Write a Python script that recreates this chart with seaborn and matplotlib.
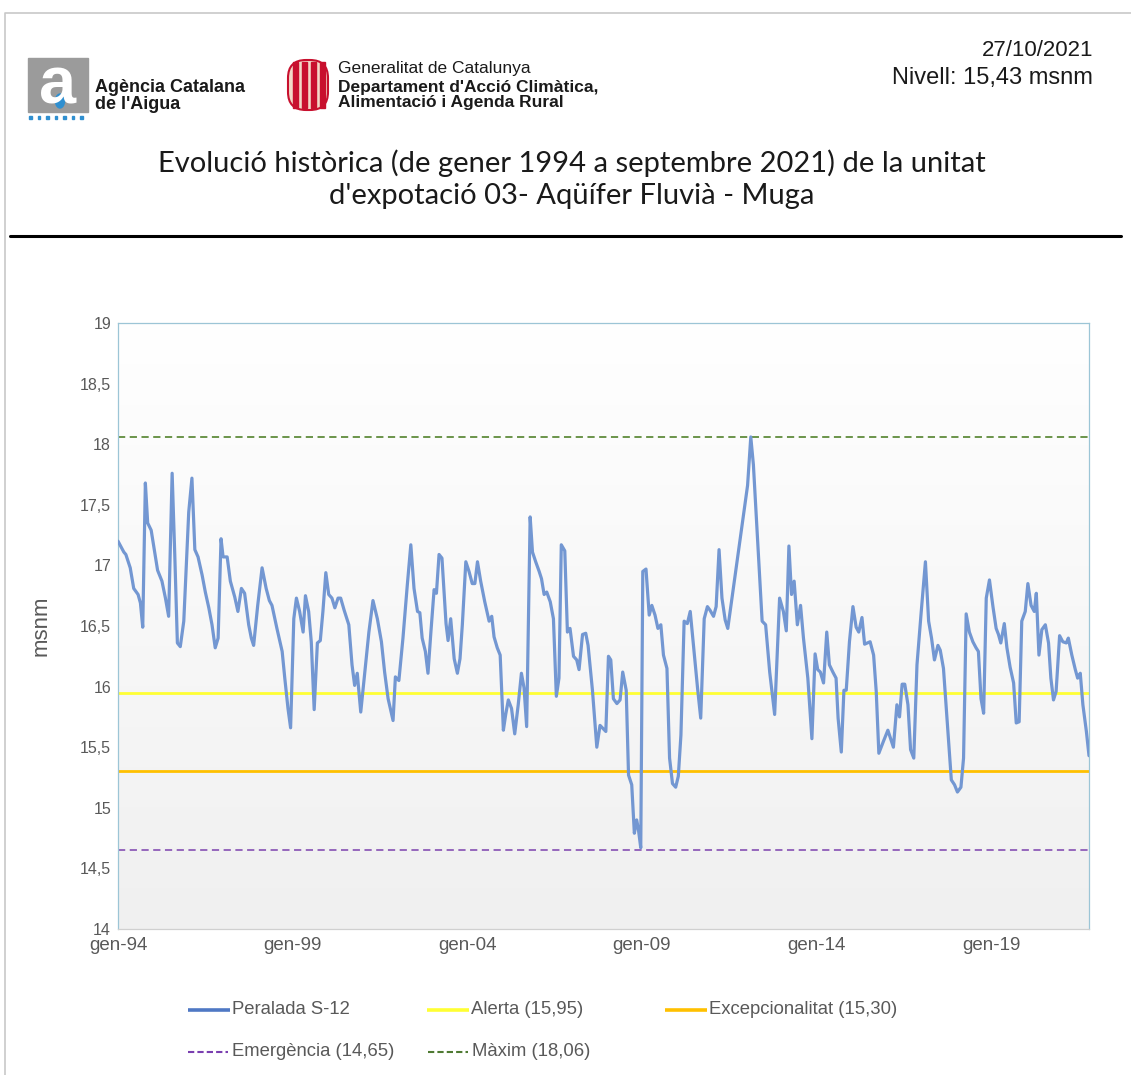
import numpy as np
import pandas as pd
import seaborn as sns
import matplotlib.pyplot as plt
import matplotlib.dates as mdates
from matplotlib.colors import LinearSegmentedColormap
from matplotlib.patches import Rectangle, FancyBboxPatch, Ellipse

# months elapsed since gen-94 at each vertex of the Peralada S-12 series
mesos = [0, 2.0, 2.7, 4.2, 5.4, 6.9, 7.7, 8.5, 9.4, 10.2, 11.4, 12.6, 13.6, 15.1, 16.3, 17.4,
         18.6, 19.5, 20.4, 21.4, 22.6, 24.3, 25.4, 26.4, 27.5, 28.9, 30.0, 31.2, 32.3, 33.4,
         34.4, 35.4, 36.1, 37.5, 38.6, 40.1, 41.2, 42.4, 43.5, 44.9, 45.8, 46.6, 48.0, 49.5,
         50.9, 52.0, 52.9, 54.6, 56.4, 57.3, 58.4, 59.3, 60.4, 61.3, 62.4, 63.6, 64.4, 65.5,
         66.4, 67.4, 68.5, 69.5, 70.4, 71.4, 72.4, 73.5, 74.5, 75.6, 76.5, 77.7, 79.3, 80.4,
         81.3, 82.2, 83.4, 84.8, 86.2, 87.6, 89.1, 90.5, 91.6, 92.8, 94.5, 95.3, 96.5, 97.9,
         99.4, 100.6, 101.7, 102.9, 103.7, 104.5, 105.6, 106.5, 107.5, 108.6, 109.4, 110.3,
         111.3, 112.7, 113.4, 114.3, 115.5, 116.6, 117.5, 118.3, 119.5, 120.6, 121.7, 122.6,
         123.5, 124.6, 126.0, 127.5, 128.4, 129.2, 130.3, 131.3, 132.4, 133.2, 134.1, 135.2,
         136.3, 137.5, 138.6, 139.5, 140.4, 141.6, 142.4, 143.5, 144.7, 145.5, 146.4, 147.3,
         148.5, 149.6, 150.6, 151.5, 152.3, 153.5, 154.4, 155.3, 156.5, 157.6, 158.4, 159.6,
         160.7, 161.5, 163.0, 164.5, 165.6, 167.6, 168.5, 169.3, 170.2, 171.4, 172.5, 173.4,
         174.6, 175.4, 176.5, 177.4, 178.2, 178.8, 179.6, 180.3, 181.4, 182.5, 183.4, 184.5,
         185.5, 186.5, 187.4, 188.6, 189.5, 190.5, 191.6, 192.5, 193.4, 194.5, 195.6, 196.6,
         197.7, 199.1, 200.2, 201.4, 202.5, 203.4, 204.6, 205.5, 206.5, 207.5, 208.6, 209.5,
         216.3, 217.4, 218.3, 221.3, 222.5, 223.9, 225.6, 227.3, 228.6, 229.6, 230.5, 231.4,
         232.3, 233.4, 234.5, 235.5, 237.0, 238.4, 239.5, 240.4, 241.3, 242.4, 243.5, 244.4,
         245.6, 246.7, 247.4, 248.5, 249.4, 250.2, 251.3, 252.5, 253.6, 254.5, 255.6, 256.5,
         258.4, 259.6, 260.5, 261.4, 263.0, 264.5, 266.4, 267.6, 268.5, 269.4, 270.3, 271.4,
         272.3, 273.4, 274.5, 275.9, 277.4, 278.5, 279.5, 280.5, 281.7, 282.5, 283.6, 284.8,
         286.3, 287.4, 288.4, 289.6, 290.5, 291.4, 292.5, 293.7, 294.8, 295.6, 296.5, 297.4,
         298.3, 299.4, 300.6, 301.7, 302.5, 303.3, 304.5, 305.4, 306.5, 307.7, 308.6, 309.6,
         310.5, 311.7, 312.6, 313.7, 314.8, 315.5, 316.4, 317.4, 318.6, 319.7, 320.5, 321.4,
         322.3, 323.5, 324.6, 325.8, 326.5, 327.7, 328.9, 329.7, 330.6, 331.5, 332.7, 333.6]

nivell = [17.20, 17.11, 17.09, 16.98, 16.81, 16.76, 16.69, 16.49, 17.68, 17.35, 17.29, 17.11,
          16.96, 16.87, 16.73, 16.58, 17.76, 17.09, 16.36, 16.33, 16.54, 17.44, 17.72, 17.13,
          17.07, 16.92, 16.78, 16.65, 16.51, 16.32, 16.40, 17.22, 17.07, 17.07, 16.87, 16.74,
          16.62, 16.81, 16.77, 16.51, 16.40, 16.34, 16.67, 16.98, 16.81, 16.71, 16.67, 16.48,
          16.29, 16.07, 15.82, 15.66, 16.56, 16.73, 16.62, 16.45, 16.75, 16.62, 16.37, 15.81,
          16.36, 16.38, 16.62, 16.94, 16.76, 16.73, 16.65, 16.73, 16.73, 16.63, 16.51, 16.18,
          16.01, 16.11, 15.79, 16.12, 16.45, 16.71, 16.56, 16.37, 16.12, 15.90, 15.72, 16.08,
          16.05, 16.40, 16.84, 17.17, 16.81, 16.62, 16.61, 16.40, 16.29, 16.11, 16.45, 16.80,
          16.77, 17.09, 17.06, 16.52, 16.38, 16.56, 16.23, 16.11, 16.23, 16.51, 17.03, 16.95,
          16.85, 16.85, 17.03, 16.87, 16.70, 16.54, 16.58, 16.41, 16.32, 16.26, 15.64, 15.77,
          15.89, 15.82, 15.61, 15.85, 16.11, 15.99, 15.67, 17.40, 17.11, 17.03, 16.95, 16.89,
          16.76, 16.78, 16.70, 16.56, 15.92, 16.07, 17.17, 17.12, 16.45, 16.48, 16.25, 16.22,
          16.14, 16.43, 16.44, 16.34, 15.97, 15.50, 15.68, 15.63, 16.25, 16.22, 15.90, 15.86,
          15.89, 16.12, 15.97, 15.27, 15.19, 14.79, 14.90, 14.82, 14.67, 16.95, 16.97, 16.59,
          16.67, 16.59, 16.48, 16.51, 16.26, 16.15, 15.41, 15.20, 15.17, 15.26, 15.60, 16.54,
          16.52, 16.62, 16.34, 15.99, 15.74, 16.56, 16.66, 16.63, 16.58, 16.66, 17.13, 16.73,
          16.55, 16.48, 17.66, 18.06, 17.83, 16.54, 16.51, 16.12, 15.77, 16.73, 16.62, 16.46,
          17.16, 16.76, 16.87, 16.51, 16.67, 16.40, 16.07, 15.57, 16.27, 16.14, 16.12, 16.03,
          16.45, 16.18, 16.12, 16.07, 15.74, 15.46, 15.97, 15.97, 16.37, 16.66, 16.49, 16.45,
          16.57, 16.35, 16.37, 16.26, 15.96, 15.45, 15.55, 15.64, 15.50, 15.85, 15.75, 16.02,
          16.02, 15.85, 15.48, 15.41, 16.18, 16.60, 17.03, 16.54, 16.40, 16.22, 16.34, 16.30,
          16.15, 15.74, 15.23, 15.19, 15.13, 15.17, 15.41, 16.60, 16.45, 16.37, 16.32, 16.29,
          15.90, 15.78, 16.73, 16.88, 16.66, 16.48, 16.43, 16.36, 16.52, 16.32, 16.16, 16.03,
          15.70, 15.71, 16.54, 16.62, 16.85, 16.67, 16.62, 16.77, 16.26, 16.47, 16.51, 16.36,
          16.07, 15.89, 15.96, 16.42, 16.37, 16.36, 16.40, 16.26, 16.14, 16.07, 16.11, 15.85,
          15.63, 15.43]

# thresholds
llindars = ["Alerta", "Excepcionalitat", "Emergència", "Màxim"]
valors_llindar = [15.95, 15.30, 14.65, 18.06]

y_ticks = [14, 14.5, 15, 15.5, 16, 16.5, 17, 17.5, 18, 18.5, 19]
x_anys = [1994, 1999, 2004, 2009, 2014, 2019]

inici = pd.Timestamp("1994-01-01")
dates = inici + pd.to_timedelta(np.array(mesos) * 30.4375, unit="D")
df = pd.DataFrame({"data": dates, "nivell": nivell})

sns.set_theme(style="white")
plt.rcParams["font.family"] = ["Liberation Sans", "DejaVu Sans"]

W, H = 1131, 1075
fig = plt.figure(figsize=(W / 100, H / 100), dpi=100)

# overlay in pixel units for the page decorations
deco = fig.add_axes([0, 0, 1, 1], zorder=-5)
deco.set_xlim(0, W)
deco.set_ylim(H, 0)
deco.axis("off")
deco.plot([5, 5, W], [H, 13, 13], color="#c8c8c8", lw=1.2)
deco.plot([10, 1121], [236, 236], color="black", lw=2.2)

# ACA logo
deco.add_patch(Rectangle((28, 58), 60, 54, color="#9b9b9b"))
deco.text(58, 87, "a", color="white", fontsize=48, fontweight="bold",
          ha="center", va="center", family="Liberation Sans")
deco.add_patch(Ellipse((60, 101), 9, 14, color="#2f8fd0"))
for i in range(7):
    deco.add_patch(Rectangle((29 + i * 8.5, 116), 2.5, 2.5, color="#2f8fd0"))
deco.text(95, 96, "Agència Catalana\nde l'Aigua", fontsize=13, fontweight="bold",
          ha="left", va="center", linespacing=0.95, color="#1a1a1a")

# Generalitat logo
deco.add_patch(FancyBboxPatch((288, 60), 40, 50, boxstyle="round,pad=0,rounding_size=18",
                              fc="#f3d9c8", ec="#c8102e", lw=1.5))
for i in range(4):
    deco.add_patch(Rectangle((293 + i * 9, 62), 4.5, 46, color="#c8102e"))
deco.text(338, 68, "Generalitat de Catalunya", fontsize=12.5, ha="left", va="center",
          color="#1a1a1a")
deco.text(338, 95, "Departament d'Acció Climàtica,\nAlimentació i Agenda Rural",
          fontsize=12.5, fontweight="bold", ha="left", va="center", linespacing=0.95,
          color="#1a1a1a")

deco.text(1093, 50, "27/10/2021", fontsize=16, ha="right", va="center", color="#1a1a1a")
deco.text(1093, 78, "Nivell: 15,43 msnm", fontsize=17, ha="right", va="center",
          color="#1a1a1a")

deco.text(572, 179, "Evolució històrica (de gener 1994 a septembre 2021) de la unitat\n"
          "d'expotació 03- Aqüífer Fluvià - Muga", fontsize=21, ha="center",
          va="center", linespacing=1.3, family=["Lato", "DejaVu Sans"], color="#1a1a1a")

# chart
ax = fig.add_axes([118 / W, 1 - 929 / H, (1089 - 118) / W, (929 - 323) / H])
grad = LinearSegmentedColormap.from_list("g", ["#f0f0f0", "#ffffff"])
ax.imshow(np.linspace(0, 1, 256).reshape(-1, 1), cmap=grad, aspect="auto",
          extent=[0, 1, 0, 1], transform=ax.transAxes, origin="lower", zorder=0)

colors = {"Alerta": "#ffff33", "Excepcionalitat": "#ffc000",
          "Emergència": "#8e5cb8", "Màxim": "#5f8c3c"}
for nom, v in zip(llindars, valors_llindar):
    if nom in ("Alerta", "Excepcionalitat"):
        ax.axhline(v, color=colors[nom], lw=2.0, zorder=2)
    else:
        ax.axhline(v, color=colors[nom], lw=1.3, ls=(0, (4, 2.5)), zorder=2)

sns.lineplot(data=df, x="data", y="nivell", ax=ax, color="#7397d2", lw=2.3,
             estimator=None, sort=False, zorder=3)

ax.set_xlim(dates[0], dates[-1])
ax.set_ylim(14, 19)
ax.set_yticks(y_ticks)
ax.set_yticklabels([f"{t:g}".replace(".", ",") for t in y_ticks])
ax.set_xticks([pd.Timestamp(f"{a}-01-01") for a in x_anys])
ax.xaxis.set_major_formatter(mdates.DateFormatter("gen-%y"))
ax.tick_params(axis="y", labelsize=11.5, labelcolor="#595959", length=0, pad=5)
ax.tick_params(axis="x", labelsize=13.5, labelcolor="#595959", length=4,
               color="#d0d0d0", pad=2)
ax.set_xlabel("")
ax.set_ylabel("msnm", fontsize=16, color="#595959")
ax.yaxis.set_label_coords(-0.068, 0.5)
for s in ax.spines.values():
    s.set_color("#9cc5d6")
    s.set_linewidth(0.9)
    s.set_linestyle((0, (1, 1)))
ax.spines["bottom"].set_linestyle("-")
ax.spines["bottom"].set_color("#d0d0d0")

# legend, laid out like the original (row by row)
entrades = [("Peralada S-12", "#4f78c4", "-", 188, 1010),
            ("Alerta (15,95)", "#ffff33", "-", 427, 1010),
            ("Excepcionalitat (15,30)", "#ffc000", "-", 665, 1010),
            ("Emergència (14,65)", "#7a3fb0", "--", 188, 1052),
            ("Màxim (18,06)", "#4f7a32", "--", 428, 1052)]
for txt, c, ls, x0, y0 in entrades:
    if ls == "-":
        deco.plot([x0, x0 + 42], [y0, y0], color=c, lw=2.6, solid_capstyle="butt")
    else:
        deco.plot([x0, x0 + 40], [y0, y0], color=c, lw=1.5, ls=(0, (3, 1.5)))
    deco.text(x0 + 44, y0, txt, fontsize=13.3, color="#595959", ha="left", va="center")

fig.savefig("out.png", dpi=100)
